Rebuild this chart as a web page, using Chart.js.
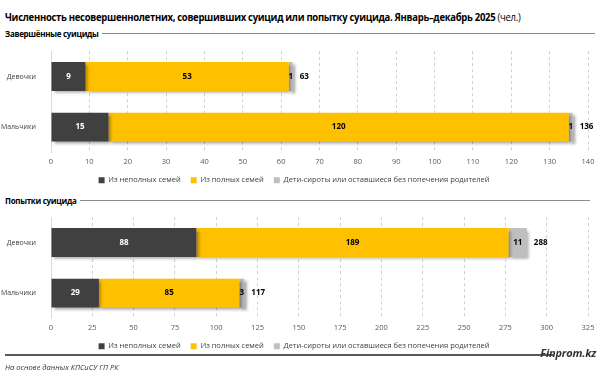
<!DOCTYPE html>
<html><head><meta charset="utf-8">
<script src="https://cdn.jsdelivr.net/npm/chart.js@4"></script>
<style>
body{margin:0;width:600px;height:379px;background:#fff;position:relative;overflow:hidden;font-family:"Open Sans","Liberation Sans",sans-serif;}
.t{position:absolute;white-space:nowrap;color:#000;}
#title{left:5px;top:10px;font-size:10px;font-weight:bold;letter-spacing:-0.3px;transform-origin:0 50%;}
#title span{font-weight:normal;}
.sec{position:absolute;left:5px;font-size:8px;font-weight:bold;display:flex;align-items:center;letter-spacing:-0.3px;}
.sec i{display:block;height:1px;background:#8c8c8c;margin-left:3px;flex:1;}
canvas{position:absolute;left:0;}
#foot{position:absolute;left:5px;top:354px;width:548px;height:2px;background:#595959;}
#brand{position:absolute;right:4px;top:345px;font-size:11px;font-weight:bold;font-style:italic;color:#333;letter-spacing:-0.2px;}
#src{position:absolute;left:5px;top:362px;font-size:7.5px;font-style:italic;color:#333;}
</style></head><body>
<div class="t" id="title">Численность несовершеннолетних, совершивших суицид или попытку суицида. Январь–декабрь 2025 <span>(чел.)</span></div>
<div class="sec" style="top:28px;width:590px;">Завершённые суициды<i></i></div>
<canvas id="c1" width="600" height="154" style="top:40px;width:600px;height:154px"></canvas>
<div class="sec" style="top:195px;width:585px;">Попытки суицида<i></i></div>
<canvas id="c2" width="600" height="154" style="top:206px;width:600px;height:154px"></canvas>
<div id="foot"></div>
<div id="brand">Finprom.kz</div>
<div class="t" id="src">На основе данных КПСиСУ ГП РК</div>
<script>
const categories = ["Девочки", "Мальчики"];
const seriesNames = ["Из неполных семей", "Из полных семей", "Дети-сироты или оставшиеся без попечения родителей"];
const completedIncomplete = [9, 15];
const completedComplete = [53, 120];
const completedOrphans = [1, 1];
const completedTotal = [63, 136];
const attemptsIncomplete = [88, 29];
const attemptsComplete = [189, 85];
const attemptsOrphans = [11, 3];
const attemptsTotal = [288, 117];
const colors = ["#404040", "#FFC000", "#BFBFBF"];
const labelColors = ["#ffffff", "#000000", "#000000"];
const FONT = '"Open Sans","Liberation Sans",sans-serif';

const titleEl = document.getElementById('title');
titleEl.style.transform = 'scaleX(' + (515 / titleEl.offsetWidth) + ')';

const shadowPlugin = {
  id: 'shadow',
  beforeDatasetsDraw(chart) {
    const ctx = chart.ctx;
    ctx.save();
    ctx.shadowColor = 'rgba(0,0,0,0.35)';
    ctx.shadowBlur = 3;
    ctx.shadowOffsetX = 2.5;
    ctx.shadowOffsetY = 2.5;
  },
  afterDatasetsDraw(chart) {
    chart.ctx.restore();
  }
};

const labelPlugin = {
  id: 'labels',
  afterDatasetsDraw(chart, args, opts) {
    const ctx = chart.ctx;
    ctx.save();
    ctx.textBaseline = 'middle';
    ctx.font = 'bold 8px ' + FONT;
    chart.data.datasets.forEach((ds, di) => {
      const meta = chart.getDatasetMeta(di);
      meta.data.forEach((bar, i) => {
        const v = ds.data[i];
        ctx.fillStyle = labelColors[di];
        ctx.textAlign = 'center';
        const cx = (bar.x + bar.base) / 2;
        ctx.fillText(String(v), cx, bar.y);
      });
    });
    const last = chart.getDatasetMeta(chart.data.datasets.length - 1);
    const totals = opts.totals;
    last.data.forEach((bar, i) => {
      ctx.fillStyle = '#000';
      ctx.textAlign = 'left';
      ctx.fillText(String(totals[i]), bar.x + 7, bar.y);
    });
    ctx.restore();
  }
};

function makeChart(id, a, b, c, totals, maxV, step) {
  return new Chart(document.getElementById(id), {
    type: 'bar',
    data: {
      labels: categories,
      datasets: [
        {label: seriesNames[0], data: a, backgroundColor: colors[0]},
        {label: seriesNames[1], data: b, backgroundColor: colors[1]},
        {label: seriesNames[2], data: c, backgroundColor: colors[2]}
      ]
    },
    options: {
      indexAxis: 'y',
      responsive: false,
      animation: false,
      devicePixelRatio: 1,
      layout: {padding: {left: 0, right: 12, top: 3, bottom: 0}},
      datasets: {bar: {barPercentage: 0.57, categoryPercentage: 1}},
      scales: {
        x: {
          stacked: true, min: 0, max: maxV,
          ticks: {stepSize: step, color: '#595959', font: {size: 7.5, family: FONT}, padding: 5},
          grid: {color: '#d0d0d0', drawTicks: false, tickLength: 0},
          border: {display: false, dash: [3, 3]},
          afterFit(s) { s.height = 14; }
        },
        y: {
          stacked: true,
          ticks: {color: '#404040', font: {size: 7, family: FONT}, padding: 7},
          grid: {display: false},
          border: {display: true, color: '#d9d9d9'},
          afterFit(s) { s.width = 51; }
        }
      },
      plugins: {
        legend: {
          position: 'bottom',
          labels: {boxWidth: 6, boxHeight: 6, color: '#404040', font: {size: 7.5, family: FONT}, padding: 10}
        },
        tooltip: {enabled: false},
        labels: {totals: totals}
      }
    },
    plugins: [shadowPlugin, labelPlugin]
  });
}
const c1 = makeChart('c1', completedIncomplete, completedComplete, completedOrphans, completedTotal, 140, 10);
const c2 = makeChart('c2', attemptsIncomplete, attemptsComplete, attemptsOrphans, attemptsTotal, 325, 25);
</script>
</body></html>
